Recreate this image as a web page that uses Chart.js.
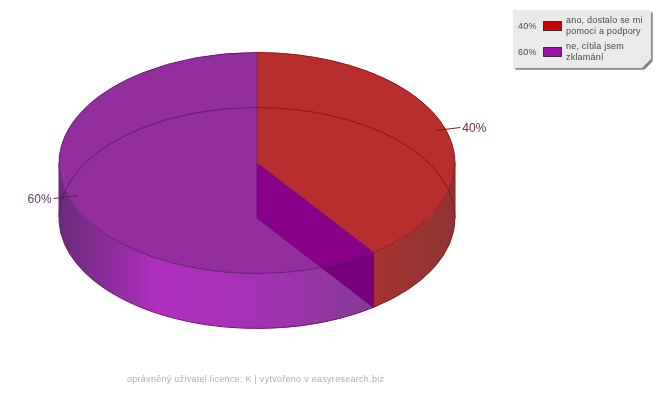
<!DOCTYPE html>
<html>
<head>
<meta charset="utf-8">
<title>easyresearch</title>
<script src="https://cdn.jsdelivr.net/npm/chart.js@4"></script>
<style>
    html, body { margin: 0; padding: 0; background: #fff; }
    #wrap { position: relative; width: 660px; height: 400px; overflow: hidden; font-family: "Liberation Sans", Arial, sans-serif; }
    #pie { position: absolute; left: 0; top: 0; }
    #legend-shadow, #legend { position: absolute; width: 138px; height: 58px; clip-path: polygon(0 0, 100% 0, 100% calc(100% - 9px), calc(100% - 9px) 100%, 0 100%); }
    #legend-shadow { left: 515px; top: 12px; background: #808080; filter: blur(1px); }
    #legend { left: 513px; top: 10px; background: #eaeaeb; }
    .row { position: absolute; left: 0; width: 138px; height: 24px; font-size: 9px; color: #484848; letter-spacing: 0.2px; }
    .pct { position: absolute; left: 5px; top: 6px; }
    .swatch { position: absolute; left: 30px; top: 6px; width: 17px; height: 8px; border: 1px solid #333; }
    .txt { position: absolute; left: 53px; top: 0; width: 84px; line-height: 11px; }
    #footer { position: absolute; left: 127px; top: 374px; font-size: 9px; color: #b0b0b0; letter-spacing: 0.28px; white-space: nowrap; }
</style>
</head>
<body>
<div id="wrap">
    <canvas id="pie" width="660" height="400"></canvas>
    <div id="legend-shadow"></div>
    <div id="legend"></div>
    <div id="footer"></div>
</div>
<script>
const answers = ["ano, dostalo se mi pomoci a podpory", "ne, cítila jsem zklamání"];
const shares = [40, 60];
const shareLabels = ["40%", "60%"];
const legendColors = ["#cc0000", "#a010a8"];
const topColors = ["#b82d2d", "#932e9e"];
const rimColors = ["#8f1414", "#651a70"];
const footerText = "oprávněný uživatel licence: K | vytvořeno v easyresearch.biz";

const squash = 0.558;
const depth = 55;
const centerY = 163;

function sideGradient(ctx, el, index) {
    const r = el.outerRadius;
    const g = ctx.createLinearGradient(el.x - r, 0, el.x + r, 0);
    if (index === 1) {
        g.addColorStop(0, "#6a2a78");
        g.addColorStop(0.12, "#8a2c9a");
        g.addColorStop(0.25, "#b030c0");
        g.addColorStop(0.5, "#a432b4");
        g.addColorStop(0.8, "#853a95");
        g.addColorStop(1, "#853a95");
    } else {
        g.addColorStop(0, "#a83232");
        g.addColorStop(0.8, "#a83232");
        g.addColorStop(1, "#8c3434");
    }
    return g;
}

const pie3d = {
    id: "pie3d",
    beforeDatasetsDraw(chart) {
        const ctx = chart.ctx;
        const arcs = chart.getDatasetMeta(0).data;
        // outer wall, only the part facing the viewer
        arcs.forEach((el, i) => {
            const a0 = Math.max(el.startAngle, 0);
            const a1 = Math.min(el.endAngle, Math.PI);
            if (a1 <= a0) return;
            const r = el.outerRadius;
            ctx.beginPath();
            ctx.ellipse(el.x, centerY, r, r * squash, 0, a0, a1);
            ctx.ellipse(el.x, centerY + depth, r, r * squash, 0, a1, a0, true);
            ctx.closePath();
            ctx.fillStyle = sideGradient(ctx, el, i);
            ctx.fill();
        });
        // the pie itself is a normal Chart.js pie, flattened here
        ctx.save();
        ctx.translate(0, centerY);
        ctx.scale(1, squash);
        ctx.translate(0, -arcs[0].y);
    },
    afterDatasetsDraw(chart) {
        const ctx = chart.ctx;
        ctx.restore();
        const arcs = chart.getDatasetMeta(0).data;
        const first = arcs[0];
        const r = first.outerRadius;
        const ex = first.x + r * Math.cos(first.endAngle);
        const ey = centerY + r * squash * Math.sin(first.endAngle);

        // cut face between the slices
        const face = new Path2D();
        face.moveTo(first.x, centerY);
        face.lineTo(ex, ey);
        face.lineTo(ex, ey + depth);
        face.lineTo(first.x, centerY + depth);
        face.closePath();
        ctx.fillStyle = "#880088";
        ctx.fill(face);

        // part of the face below the top rim is a bit darker
        ctx.save();
        const outside = new Path2D();
        outside.rect(0, 0, chart.width, chart.height);
        outside.ellipse(first.x, centerY, r, r * squash, 0, 0, Math.PI * 2);
        ctx.clip(outside, "evenodd");
        ctx.fillStyle = "rgba(40, 0, 70, 0.16)";
        ctx.fill(face);
        ctx.restore();

        ctx.lineWidth = 1;
        ctx.strokeStyle = "#6e0a78";
        ctx.stroke(face);

        // rims of top and bottom ellipse
        arcs.forEach((el, i) => {
            ctx.strokeStyle = rimColors[i];
            ctx.lineWidth = 1;
            ctx.beginPath();
            ctx.ellipse(el.x, centerY, r, r * squash, 0, el.startAngle, el.endAngle);
            ctx.stroke();
            ctx.beginPath();
            ctx.ellipse(el.x, centerY + depth, r, r * squash, 0, el.startAngle, el.endAngle);
            ctx.stroke();
        });
        ctx.beginPath();
        ctx.moveTo(first.x, centerY - r * squash);
        ctx.lineTo(first.x, centerY);
        ctx.strokeStyle = "#7a2060";
        ctx.stroke();
        ctx.beginPath();
        ctx.moveTo(first.x - r, centerY);
        ctx.lineTo(first.x - r, centerY + depth);
        ctx.strokeStyle = "#5e2a6c";
        ctx.stroke();
        ctx.beginPath();
        ctx.moveTo(first.x + r, centerY);
        ctx.lineTo(first.x + r, centerY + depth);
        ctx.strokeStyle = "#7a2020";
        ctx.stroke();
        ctx.beginPath();
        ctx.moveTo(ex, ey);
        ctx.lineTo(ex, ey + depth);
        ctx.strokeStyle = "#6e0a78";
        ctx.stroke();

        // leaders and percent labels
        ctx.font = "12px 'Liberation Sans', Arial, sans-serif";
        ctx.textBaseline = "middle";
        arcs.forEach((el, i) => {
            const mid = (el.startAngle + el.endAngle) / 2;
            const c = Math.cos(mid), s = Math.sin(mid);
            ctx.strokeStyle = i === 0 ? "#7a1a1a" : "#5a1a60";
            ctx.lineWidth = 1;
            ctx.beginPath();
            ctx.moveTo(el.x + 0.95 * r * c, centerY + 0.95 * r * squash * s);
            const lx = el.x + 1.08 * r * c, ly = centerY + 1.04 * r * squash * s;
            ctx.lineTo(lx, ly);
            ctx.stroke();
            ctx.fillStyle = i === 0 ? "#6a2a38" : "#5a3a68";
            ctx.textAlign = c > 0 ? "left" : "right";
            ctx.fillText(shareLabels[i], lx + (c > 0 ? 2 : -2), ly + 1);
        });
    }
};

new Chart(document.getElementById("pie"), {
    type: "pie",
    data: {
        labels: answers,
        datasets: [{ data: shares, backgroundColor: topColors, borderWidth: 0 }]
    },
    options: {
        responsive: false,
        animation: false,
        events: [],
        layout: { padding: { left: 59, right: 205, top: 2, bottom: 2 } },
        plugins: { legend: { display: false }, tooltip: { enabled: false } }
    },
    plugins: [pie3d]
});

// legend box and footer are plain html
const legendBox = document.getElementById("legend");
const rowTops = [5, 31];
answers.forEach((answer, i) => {
    const row = document.createElement("div");
    row.className = "row";
    row.style.top = rowTops[i] + "px";
    row.innerHTML = `<span class="pct">${shareLabels[i]}</span>` +
        `<span class="swatch" style="background:${legendColors[i]}"></span>` +
        `<span class="txt">${answer}</span>`;
    legendBox.appendChild(row);
});
document.getElementById("footer").textContent = footerText;
</script>
</body>
</html>
